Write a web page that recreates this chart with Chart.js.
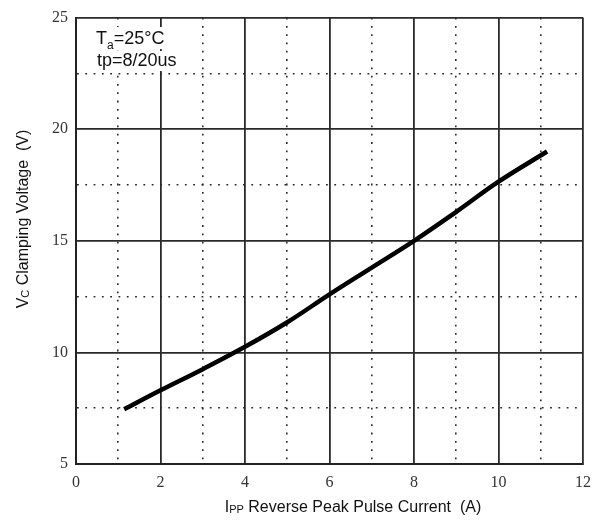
<!DOCTYPE html>
<html>
<head>
<meta charset="utf-8">
<script src="https://cdn.jsdelivr.net/npm/chart.js@4.4.1/dist/chart.umd.min.js"></script>
<style>
  html, body { margin: 0; padding: 0; background: #fff; }
  #wrap { width: 600px; height: 520px; }
</style>
</head>
<body>
<div id="wrap"><canvas id="vcChart" width="600" height="520"></canvas></div>
<script>
// values
const currentA = [1.14, 2, 3, 4, 5, 6, 7, 8, 9, 10, 11.15];
const clampV = [7.45, 8.3, 9.25, 10.25, 11.35, 12.6, 13.8, 15.0, 16.3, 17.65, 19.0];

const xRange = [0, 12];
const yRange = [5, 25];

const serif = '"Liberation Serif", "DejaVu Serif", serif';
const sans = '"Liberation Sans", Arial, sans-serif';

// draw text made of runs, some of them subscripts
function drawRuns(ctx, runs, x, y) {
    let cx = x;
    runs.forEach(r => {
        ctx.font = r.size + 'px ' + sans;
        ctx.fillText(r.t, cx, y + (r.dy || 0));
        cx += ctx.measureText(r.t).width;
    });
    return cx - x;
}
function runsWidth(ctx, runs) {
    let w = 0;
    runs.forEach(r => {
        ctx.font = r.size + 'px ' + sans;
        w += ctx.measureText(r.t).width;
    });
    return w;
}

const labelsPlugin = {
    id: 'labels',
    afterDraw(chart) {
        const ctx = chart.ctx;
        ctx.save();
        ctx.fillStyle = '#111';
        ctx.textBaseline = 'alphabetic';

        // x title
        const xRuns = [
            {t: 'I', size: 16},
            {t: 'PP', size: 11, dy: 1},
            {t: ' Reverse Peak Pulse Current  (A)', size: 16}
        ];
        const xw = runsWidth(ctx, xRuns);
        drawRuns(ctx, xRuns, 353 - xw / 2, 512);

        // y title, rotated
        const yRuns = [
            {t: 'V', size: 16},
            {t: 'C', size: 11, dy: 1},
            {t: ' Clamping Voltage  (V)', size: 16}
        ];
        const yw = runsWidth(ctx, yRuns);
        ctx.save();
        ctx.translate(28, 219);
        ctx.rotate(-Math.PI / 2);
        drawRuns(ctx, yRuns, -yw / 2, 0);
        ctx.restore();

        // conditions note
        const line1 = [
            {t: 'T', size: 18},
            {t: 'a', size: 12, dy: 5},
            {t: '=25\u00b0C', size: 18}
        ];
        const line2 = [{t: 'tp=8/20us', size: 18}];
        ctx.fillStyle = '#fff';
        ctx.fillRect(94, 27, runsWidth(ctx, line1) + 4, 22);
        ctx.fillRect(95, 51, runsWidth(ctx, line2) + 4, 20);
        ctx.fillStyle = '#111';
        drawRuns(ctx, line1, 96, 44);
        drawRuns(ctx, line2, 97, 66);
        ctx.restore();
    }
};

function isMajorX(v) { return v % 2 === 0; }
function isMajorY(v) { return v % 5 === 0; }

const ctx = document.getElementById('vcChart').getContext('2d');
const vcChart = new Chart(ctx, {
    type: 'line',
    data: {
        datasets: [{
            data: currentA.map((x, i) => ({x: x, y: clampV[i]})),
            borderColor: '#000',
            borderWidth: 4.5,
            pointRadius: 0,
            tension: 0.4,
            fill: false
        }]
    },
    options: {
        responsive: false,
        animation: false,
        layout: {
            padding: {left: 0, top: 15, right: 7, bottom: 0}
        },
        scales: {
            x: {
                type: 'linear',
                min: xRange[0],
                max: xRange[1],
                ticks: {
                    stepSize: 1,
                    padding: 9,
                    color: '#333',
                    font: {family: serif, size: 16},
                    callback: v => isMajorX(v) ? v : ''
                },
                grid: {
                    drawTicks: false,
                    color: '#2a2a2a',
                    lineWidth: c => (c.tick && isMajorX(c.tick.value)) ? 1.8 : 1.6
                },
                border: {
                    color: '#222',
                    width: 2,
                    dash: c => (c.tick && !isMajorX(c.tick.value)) ? [1.8, 6.5] : []
                },
                afterFit: s => { s.height = 56; }
            },
            y: {
                min: yRange[0],
                max: yRange[1],
                ticks: {
                    stepSize: 2.5,
                    padding: 8,
                    color: '#333',
                    font: {family: serif, size: 16},
                    callback: v => isMajorY(v) ? v : ''
                },
                grid: {
                    drawTicks: false,
                    color: '#2a2a2a',
                    lineWidth: c => (c.tick && isMajorY(c.tick.value)) ? 1.8 : 1.6
                },
                border: {
                    color: '#222',
                    width: 2,
                    dash: c => (c.tick && !isMajorY(c.tick.value)) ? [1.8, 6.5] : []
                },
                afterFit: s => { s.width = 76; }
            }
        },
        plugins: {
            legend: {display: false},
            tooltip: {enabled: false}
        }
    },
    plugins: [labelsPlugin]
});
</script>
</body>
</html>
